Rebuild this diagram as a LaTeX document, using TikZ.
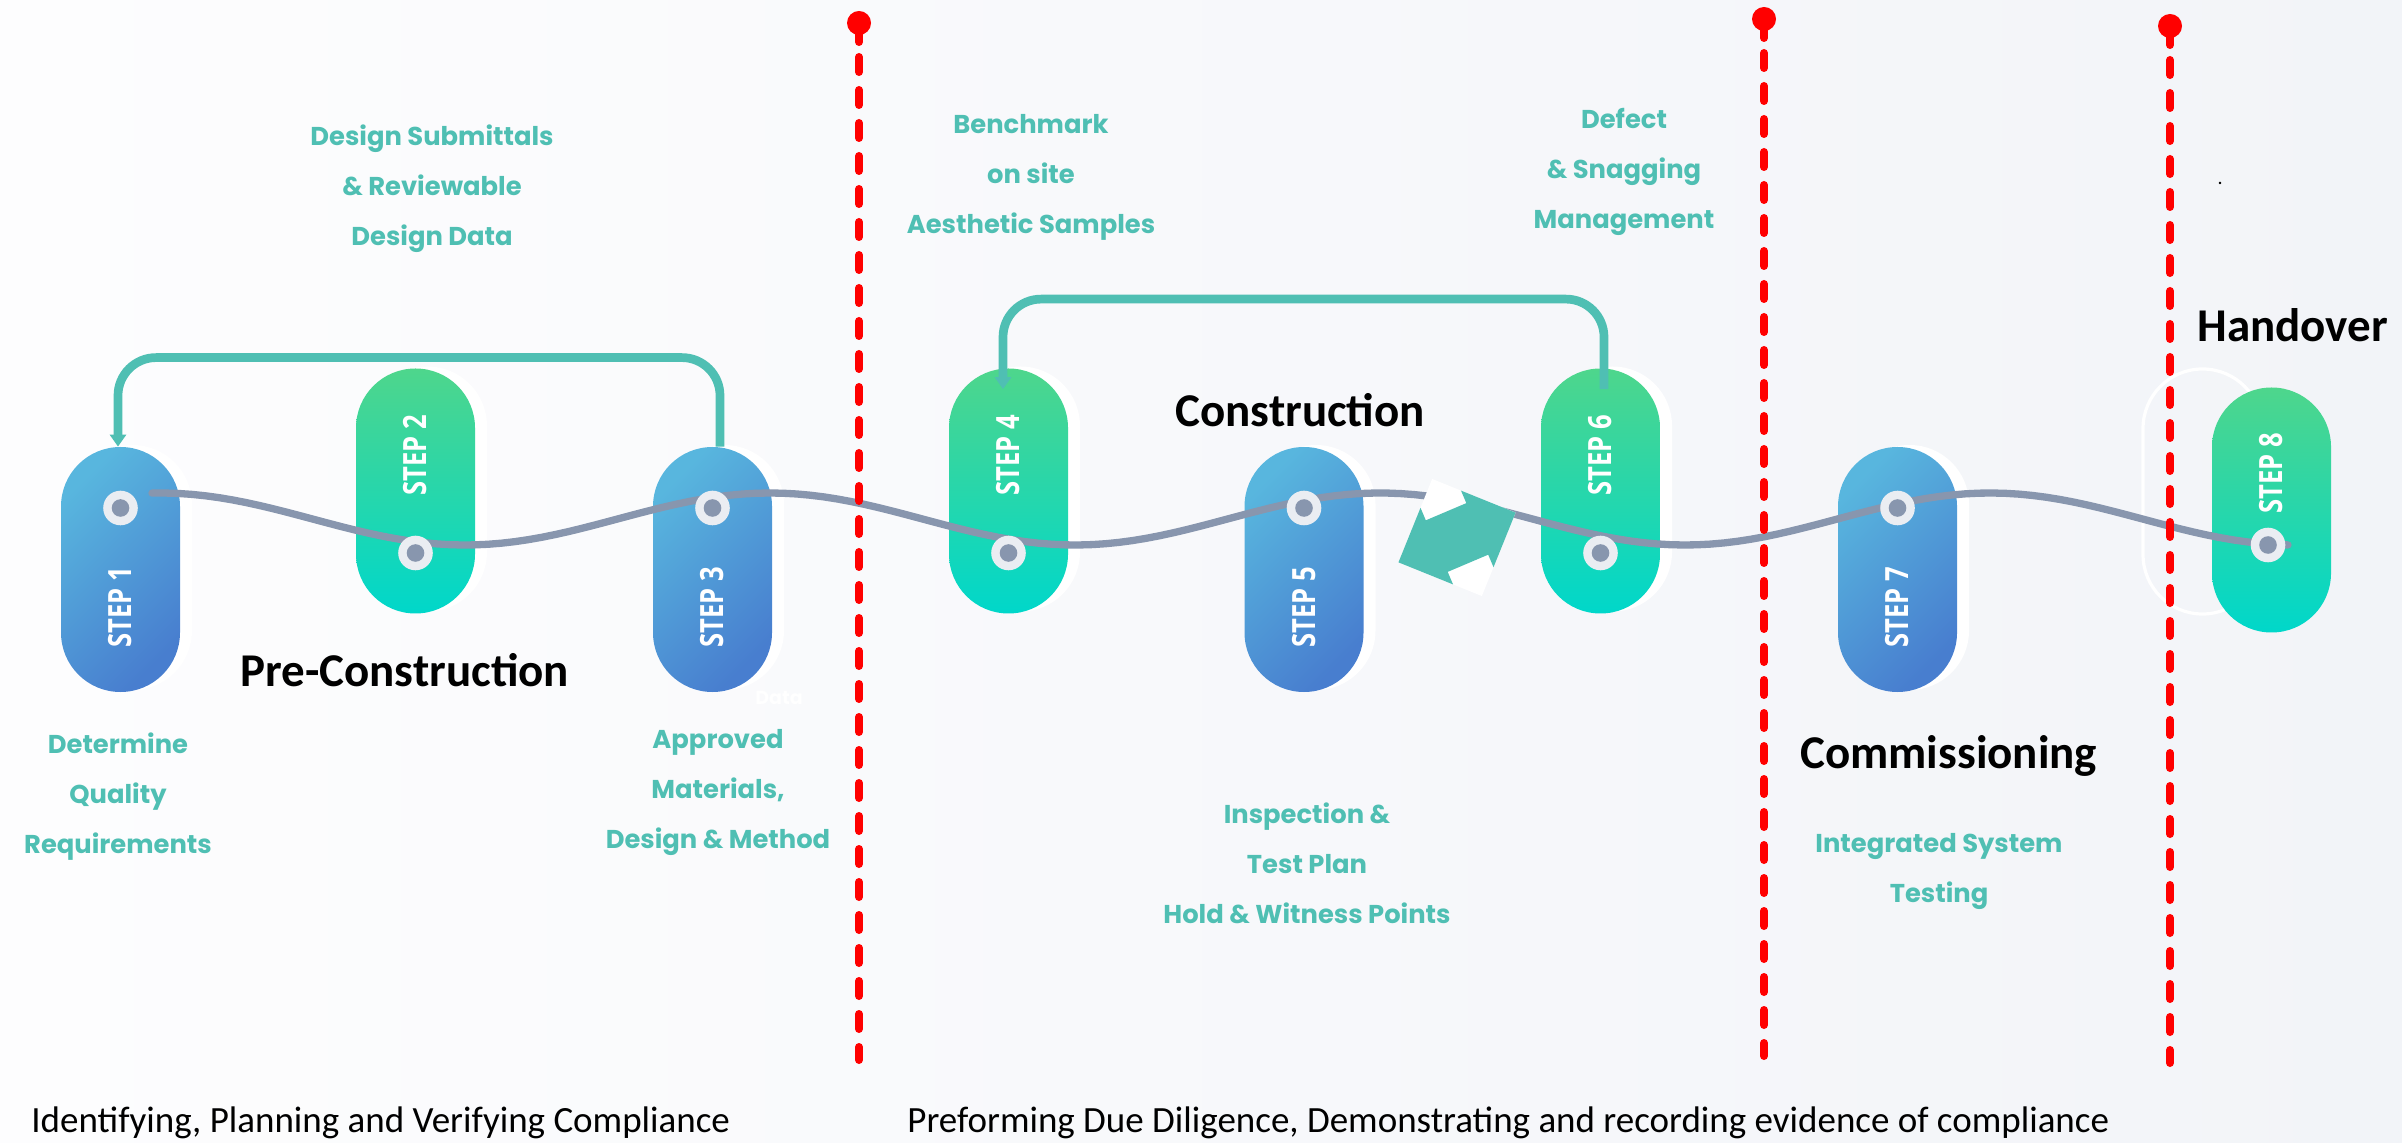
\documentclass[tikz,border=0pt]{standalone}
\usepackage{fontspec}
\setmainfont{Carlito}
\newfontfamily\tealfont{Poppins}
\newfontfamily\stepfont{Open Sans}[FakeStretch=0.8]
\usetikzlibrary{arrows.meta}
\definecolor{tealc}{RGB}{79,191,179}
\definecolor{wavec}{RGB}{136,150,174}
\definecolor{ringc}{RGB}{234,237,242}
\definecolor{blueA}{RGB}{88,182,222}
\definecolor{blueB}{RGB}{72,126,207}
\definecolor{greenA}{RGB}{78,214,140}
\definecolor{greenB}{RGB}{0,215,202}
\definecolor{redc}{RGB}{255,0,0}
\definecolor{bgA}{RGB}{253,253,254}
\definecolor{bgB}{RGB}{242,244,248}
\begin{document}
\begin{tikzpicture}[x=0.5pt,y=-0.5pt,
  pillbase/.style={rectangle,minimum width=59.5pt,minimum height=122.5pt,rounded corners=29.7pt,inner sep=0pt},
  bluepill/.style={pillbase,top color=blueA,bottom color=blueB,shading angle=45},
  greenpill/.style={pillbase,top color=greenA,bottom color=greenB},
  shadowpill/.style={pillbase,fill=white},
  steptext/.style={text=white,font=\stepfont\bfseries\fontsize{16}{16}\selectfont,rotate=90,inner sep=0pt},
  ringdot/.style={circle,fill=ringc,minimum size=17.3pt,inner sep=0pt,path picture={\fill[wavec] (path picture bounding box.center) circle (4.4pt);}},
  wave/.style={draw=wavec,line width=3.65pt,line cap=round},
  conn/.style={draw=tealc,line width=4.35pt,rounded corners=19pt},
  tealtext/.style={text=tealc,font=\tealfont\bfseries\fontsize{12.9}{25}\selectfont,align=center,inner sep=0pt},
  heading/.style={font=\bfseries\fontsize{23.5}{28}\selectfont,inner sep=0pt,anchor=base west},
  foot/.style={font=\fontsize{18.5}{22}\selectfont,inner sep=0pt,anchor=base west},
  redpin/.style={circle,fill=redc,minimum size=12pt,inner sep=0pt},
  redstem/.style={draw=redc,line width=4pt,line cap=round},
  reddash/.style={draw=redc,line width=4pt,line cap=round,dash pattern=on 7.5pt off 9pt}]

% background
\shade[left color=bgA,right color=bgB] (0,0) rectangle (2402,1143);
\useasboundingbox (0,0) rectangle (2402,1143);

% white shadow pills
\node[shadowpill] (w1) at (132.5,567.5) {};
\node[shadowpill] (w2) at (427.5,489) {};
\node[shadowpill] (w3) at (724.5,567.5) {};
\node[shadowpill] (w4) at (1020.5,489) {};
\node[shadowpill] (w5) at (1316,567.5) {};
\node[shadowpill] (w6) at (1612.5,489) {};
\node[shadowpill] (w7) at (1909.5,567.5) {};
\node[pillbase,draw=white,line width=1.6pt] (w8) at (2202.5,491.5) {};

% pills
\node[bluepill] (s1) at (120.5,569.5) {};
\node[greenpill] (s2) at (415.5,491) {};
\node[bluepill] (s3) at (712.5,569.5) {};
\node[greenpill] (s4) at (1008.5,491) {};
\node[bluepill] (s5) at (1304,569.5) {};
\node[greenpill] (s6) at (1600.5,491) {};
\node[bluepill] (s7) at (1897.5,569.5) {};
\node[greenpill] (s8) at (2271.5,510) {};

% step labels
\node[steptext] (t1) at (120.5,607) {STEP 1};
\node[steptext] (t2) at (415.5,455) {STEP 2};
\node[steptext] (t3) at (712.5,607) {STEP 3};
\node[steptext] (t4) at (1008.5,455) {STEP 4};
\node[steptext] (t5) at (1304,607) {STEP 5};
\node[steptext] (t6) at (1600.5,455) {STEP 6};
\node[steptext] (t7) at (1897.5,607) {STEP 7};
\node[steptext] (t8) at (2271.5,473) {STEP 8};

% wave
\draw[wave] plot[domain=152:2288,samples=160] (\x,{519-26*cos(0.590164*(\x-160))});

% dots
\node[ringdot] (c1) at (120.5,508) {};
\node[ringdot] (c2) at (415.5,553) {};
\node[ringdot] (c3) at (712.5,508) {};
\node[ringdot] (c4) at (1008.5,553) {};
\node[ringdot] (c5) at (1304,508) {};
\node[ringdot] (c6) at (1600.5,553) {};
\node[ringdot] (c7) at (1897.5,508) {};
\node[ringdot] (c8) at (2268,545) {};

% double arrow symbol
\begin{scope}[shift={(1457,537.5)},rotate=23]
  \fill[white] (-63.6,0) -- (0,-63.6) -- (63.6,0) -- (0,63.6) -- cycle;
  \clip (-63.6,0) -- (0,-63.6) -- (63.6,0) -- (0,63.6) -- cycle;
  \fill[tealc] (-63.6,0) -- (-22,-58) -- (-22,-28) -- (22,-28) -- (22,-58) -- (63.6,0)
     -- (22,58) -- (22,28) -- (-22,28) -- (-22,58) -- cycle;
\end{scope}

% teal connectors
\draw[conn,-{Triangle[width=8pt,length=6pt]}] ([xshift=3.75pt]s3.north) -- ++(0,-89) -| ([xshift=-1.25pt]s1.north);
\draw[conn,-{Triangle[width=8pt,length=6pt]}] ([xshift=1.75pt,yshift=-10.5pt]s6.north) -- ++(0,-90) -| ([xshift=-2.75pt,yshift=-10.5pt]s4.north);

% red dashed dividers
\foreach \i/\xx/\yt/\yb in {1/859/23/1060,2/1764/19/1056,3/2170/26/1063} {
  \node[redpin] (p\i) at (\xx,\yt) {};
  \coordinate (q\i) at (\xx,\yb);
  \draw[redstem] (p\i.center) -- ++(0,19);
  \draw[reddash] ([yshift=-17pt]p\i.center) -- (q\i);
}

% teal descriptions
\node[tealtext] (d2) at (432,189) {Design Submittals\\\& Reviewable\\Design Data};
\node[tealtext] (d4) at (1031,177) {Benchmark\\on site\\Aesthetic Samples};
\node[tealtext] (d6) at (1624,172) {Defect\\\& Snagging\\Management};
\node[tealtext] (d1) at (118,797) {Determine\\Quality\\Requirements};
\node[tealtext] (d3) at (718,792) {Approved\\Materials,\\Design \& Method};
\node[tealtext] (d5) at (1307,863) {Inspection \&\\Test Plan\\Hold \& Witness Points};
\node[tealtext] (d7) at (1939,871) {Integrated System\\Testing};
\node[text=white,font=\tealfont\bfseries\fontsize{9.5}{11}\selectfont,inner sep=0pt] (data) at (779,698) {Data};
\node[font=\fontsize{10}{12}\selectfont,inner sep=0pt] (dot) at (2220,183) {.};

% headings
\node[heading] (h1) at (240,686) {Pre-Construction};
\node[heading] (h2) at (1175,427) {Construction};
\node[heading] (h3) at (1800,768) {Commissioning};
\node[heading] (h4) at (2197,342) {Handover};

% footers
\node[foot] (f1) at (31,1132) {Identifying, Planning and Verifying Compliance};
\node[foot] (f2) at (907,1132) {Preforming Due Diligence, Demonstrating and recording evidence of compliance};
\end{tikzpicture}
\end{document}
